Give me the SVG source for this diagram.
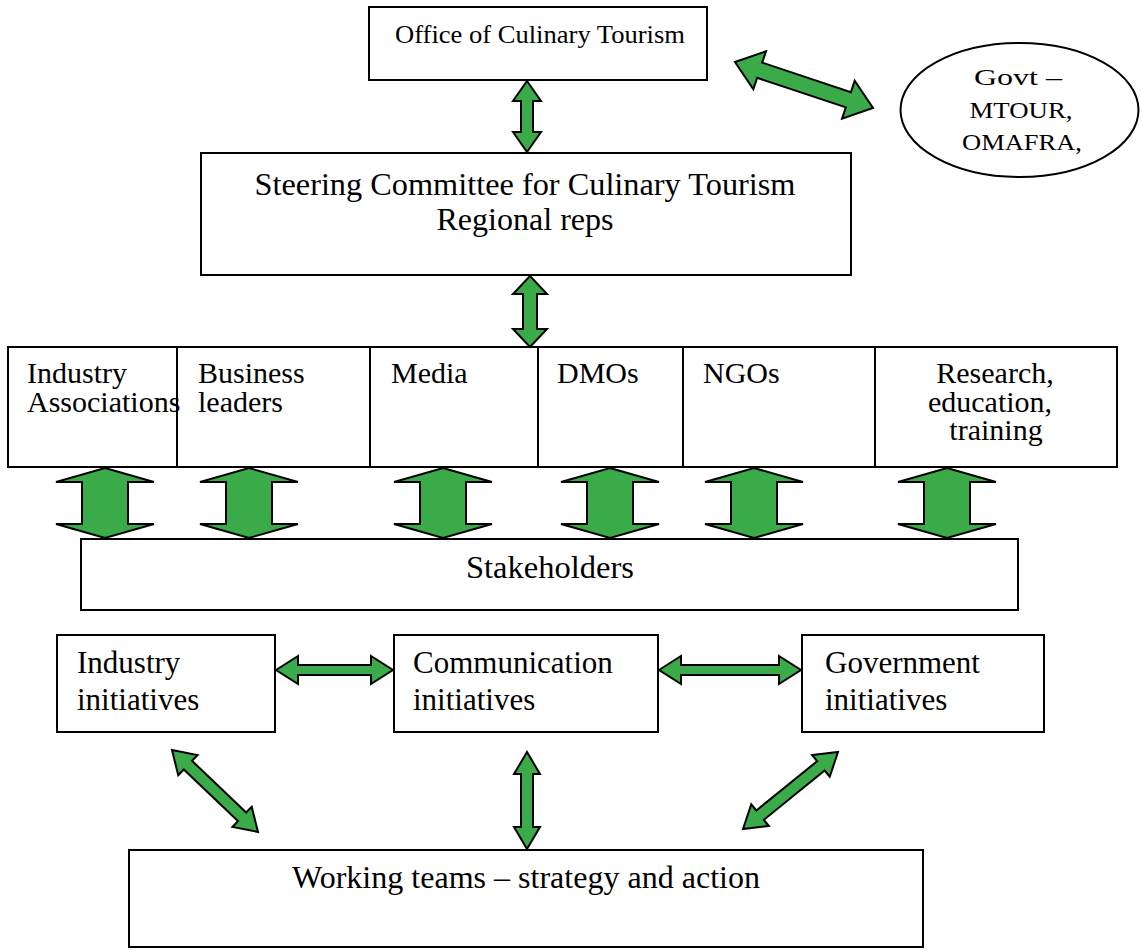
<svg xmlns="http://www.w3.org/2000/svg" width="1142" height="951" viewBox="0 0 1142 951">
<style>
.box{fill:#fff;stroke:#000;stroke-width:2}
.div{stroke:#000;stroke-width:2}
.arr{fill:#3aab48;stroke:#000;stroke-width:2;stroke-linejoin:miter}
text{font-family:"Liberation Serif","Times New Roman",serif;fill:#000}
.t26{font-size:26px}
.t24{font-size:24px}
.t30{font-size:30px}
.t31{font-size:31px}
.mid{text-anchor:middle}
</style>
<defs>
<polygon id="bigArrow" points="0,0 14,-49 14,-23 56,-23 56,-49 70,0 56,49 56,23 14,23 14,49" class="arr"/>
</defs>
<rect width="1142" height="951" fill="#fff"/>
<g id="office">
<rect class="box" x="369" y="7" width="338" height="73"/>
<text class="t26 mid" x="540" y="43" textLength="290" lengthAdjust="spacingAndGlyphs">Office of Culinary Tourism</text>
</g>
<g id="govt">
<ellipse class="box" cx="1019.5" cy="110" rx="119" ry="67"/>
<text class="t24 mid" x="1018" y="85" textLength="88" lengthAdjust="spacingAndGlyphs">Govt –</text>
<text class="t24 mid" x="1021" y="118" textLength="103" lengthAdjust="spacingAndGlyphs">MTOUR,</text>
<text class="t24 mid" x="1022" y="150" textLength="120" lengthAdjust="spacingAndGlyphs">OMAFRA,</text>
</g>
<g id="steering">
<rect class="box" x="201" y="153" width="650" height="122"/>
<text class="t31 mid" x="525" y="195" textLength="541" lengthAdjust="spacingAndGlyphs">Steering Committee for Culinary Tourism</text>
<text class="t31 mid" x="525" y="230" textLength="177" lengthAdjust="spacingAndGlyphs">Regional reps</text>
</g>
<g id="groups">
<rect class="box" x="8" y="347" width="1109" height="120"/>
<line class="div" x1="177" y1="347" x2="177" y2="467"/>
<line class="div" x1="370" y1="347" x2="370" y2="467"/>
<line class="div" x1="538" y1="347" x2="538" y2="467"/>
<line class="div" x1="683" y1="347" x2="683" y2="467"/>
<line class="div" x1="875" y1="347" x2="875" y2="467"/>
</g>
<g id="industry-associations">
<text class="t30" x="27" y="383">Industry</text>
<text class="t30" x="27" y="412">Associations</text>
</g>
<g id="business-leaders">
<text class="t30" x="198" y="383">Business</text>
<text class="t30" x="198" y="412">leaders</text>
</g>
<g id="media"><text class="t30" x="391" y="383">Media</text></g>
<g id="dmos"><text class="t30" x="557" y="383">DMOs</text></g>
<g id="ngos"><text class="t30" x="703" y="383">NGOs</text></g>
<g id="research">
<text class="t30 mid" x="995" y="383">Research,</text>
<text class="t30 mid" x="990" y="412">education,</text>
<text class="t30 mid" x="996" y="440">training</text>
</g>
<g id="stakeholders">
<rect class="box" x="81" y="539" width="937" height="71"/>
<text class="t31 mid" x="550" y="578" textLength="168" lengthAdjust="spacingAndGlyphs">Stakeholders</text>
</g>
<g id="industry-initiatives">
<rect class="box" x="57" y="635" width="218" height="97"/>
<text class="t31" x="77" y="673">Industry</text>
<text class="t31" x="77" y="710">initiatives</text>
</g>
<g id="communication-initiatives">
<rect class="box" x="394" y="635" width="264" height="97"/>
<text class="t31" x="413" y="673">Communication</text>
<text class="t31" x="413" y="710">initiatives</text>
</g>
<g id="government-initiatives">
<rect class="box" x="802" y="635" width="242" height="97"/>
<text class="t31" x="825" y="673">Government</text>
<text class="t31" x="825" y="710">initiatives</text>
</g>
<g id="working-teams">
<rect class="box" x="129" y="850" width="794" height="97"/>
<text class="t31 mid" x="526" y="888" textLength="468" lengthAdjust="spacingAndGlyphs">Working teams – strategy and action</text>
</g>
<g id="connectors">
<polygon class="arr" transform="translate(735,62) rotate(18.43)" points="0,0 26,-20 26,-8 119.5,-8 119.5,-20 145.5,0 119.5,20 119.5,8 26,8 26,20"/>
<polygon class="arr" transform="translate(527,81) rotate(90)" points="0,0 20,-14 20,-6 51,-6 51,-14 71,0 51,14 51,6 20,6 20,14"/>
<polygon class="arr" transform="translate(530,276) rotate(90)" points="0,0 18,-17 18,-7 53,-7 53,-17 71,0 53,17 53,7 18,7 18,17"/>
<use href="#bigArrow" transform="translate(105,468) rotate(90)"/>
<use href="#bigArrow" transform="translate(249,468) rotate(90)"/>
<use href="#bigArrow" transform="translate(443,468) rotate(90)"/>
<use href="#bigArrow" transform="translate(610,468) rotate(90)"/>
<use href="#bigArrow" transform="translate(754,468) rotate(90)"/>
<use href="#bigArrow" transform="translate(947,468) rotate(90)"/>
<polygon class="arr" transform="translate(276,670)" points="0,0 22,-14 22,-5 95,-5 95,-14 117,0 95,14 95,5 22,5 22,14"/>
<polygon class="arr" transform="translate(659,670)" points="0,0 22,-14 22,-5 120,-5 120,-14 142,0 120,14 120,5 22,5 22,14"/>
<polygon class="arr" transform="translate(172,750) rotate(43.64)" points="0,0 22,-14 22,-6 96.8,-6 96.8,-14 118.8,0 96.8,14 96.8,6 22,6 22,14"/>
<polygon class="arr" transform="translate(527,752) rotate(90)" points="0,0 22,-13 22,-6 75,-6 75,-13 97,0 75,13 75,6 22,6 22,13"/>
<polygon class="arr" transform="translate(838,752) rotate(140.97)" points="0,0 22,-14 22,-6 100.3,-6 100.3,-14 122.3,0 100.3,14 100.3,6 22,6 22,14"/>
</g>
</svg>
